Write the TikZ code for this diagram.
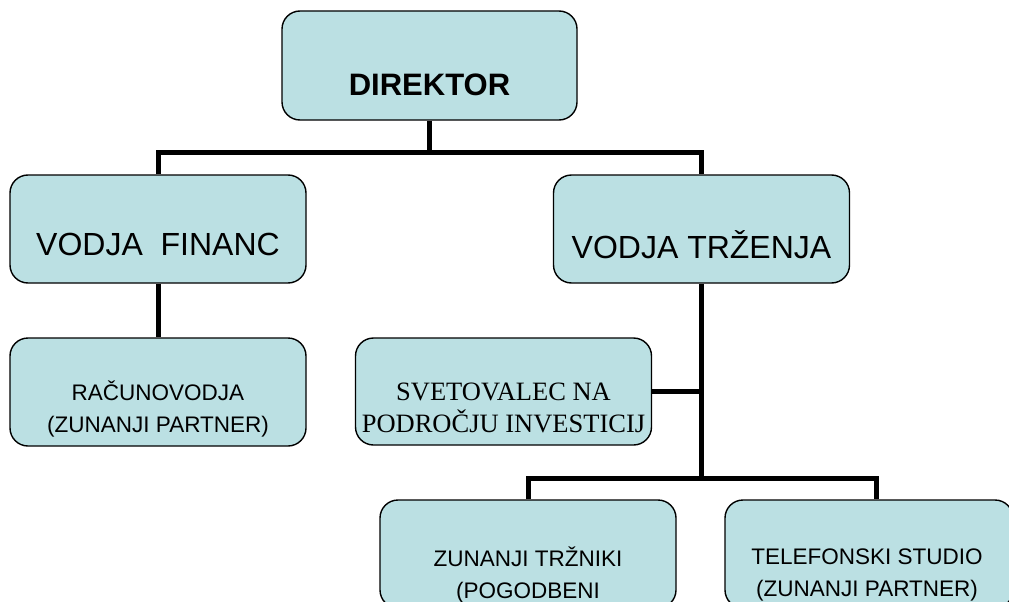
\documentclass[tikz,border=0pt]{standalone}
\usepackage{fontspec}
\setmainfont{Liberation Sans}
\newfontfamily\timesfont{Liberation Serif}
\usetikzlibrary{calc}
\definecolor{boxfill}{RGB}{187,224,227}
\tikzset{
  orgbox/.style={
    rectangle, rounded corners=18pt,
    minimum width=296pt, minimum height=108pt,
    draw=black, line width=1.4pt, fill=boxfill
  },
  bigtext/.style={
    inner sep=0pt, align=center,
    font=\fontsize{32}{38}\selectfont
  },
  smalltext/.style={
    inner sep=0pt, align=center,
    font=\fontsize{22.5}{32}\selectfont
  },
  serifttext/.style={
    inner sep=0pt, align=center,
    font=\timesfont\fontsize{26.5}{32}\selectfont
  },
  conn/.style={draw=black, line width=5pt, line join=miter}
}
\begin{document}
\begin{tikzpicture}[x=1pt, y=-1pt]
\useasboundingbox (0,0) rectangle (1009,602);
\clip (0,0) rectangle (1009,602);

% --- Boxes ---
\node[orgbox, minimum width=295pt, minimum height=109pt] (dir) at (429.5,65.5) {};
\node[orgbox] (fin) at (158,229) {};
\node[orgbox] (trz) at (701.5,229) {};
\node[orgbox] (rac) at (158,392) {};
\node[orgbox, minimum height=107pt] (svet) at (503.5,391.5) {};
\node[orgbox] (zun) at (528,554) {};
\node[orgbox, minimum width=288pt] (tel) at (869,554) {};

% --- Texts ---
\node[bigtext, font=\bfseries\fontsize{31}{38}\selectfont] (dirtxt)
  at ($(dir.center)+(0,19.5)$) {DIREKTOR};
\node[bigtext] (fintxt) at ($(fin.center)+(0,15.5)$) {VODJA\hspace{0.28em} FINANC};
\node[bigtext] (trztxt) at ($(trz.center)+(0,15.5)$) {VODJA TRŽENJA};
\node[smalltext] (ractxt) at ($(rac.center)+(0,17)$)
  {RAČUNOVODJA\\(ZUNANJI PARTNER)};
\node[serifttext] (svettxt) at ($(svet.center)+(0,16)$)
  {SVETOVALEC NA\\PODROČJU INVESTICIJ};
\node[smalltext] (zuntxt) at ($(zun.center)+(0,21)$)
  {ZUNANJI TRŽNIKI\\(POGODBENI};
\node[smalltext] (teltxt) at ($(tel.center)+(-2,21)$)
  {TELEFONSKI STUDIO\\(ZUNANJI PARTNER)};

% --- Connectors ---
\coordinate (bustop) at ($(dir.south)+(0,32)$);
\coordinate (buslow) at (701.5,478);
\draw[conn] (dir.south) -- (bustop);
\draw[conn] (fin.north) |- (bustop) -| (trz.north);
\draw[conn] (fin.south) -- (rac.north);
\draw[conn] (trz.south) -- (buslow);
\draw[conn] (svet.east) -- (svet.east -| trz.south);
\draw[conn] (zun.north) |- (buslow) -| ([xshift=7pt]tel.north);
\end{tikzpicture}
\end{document}
